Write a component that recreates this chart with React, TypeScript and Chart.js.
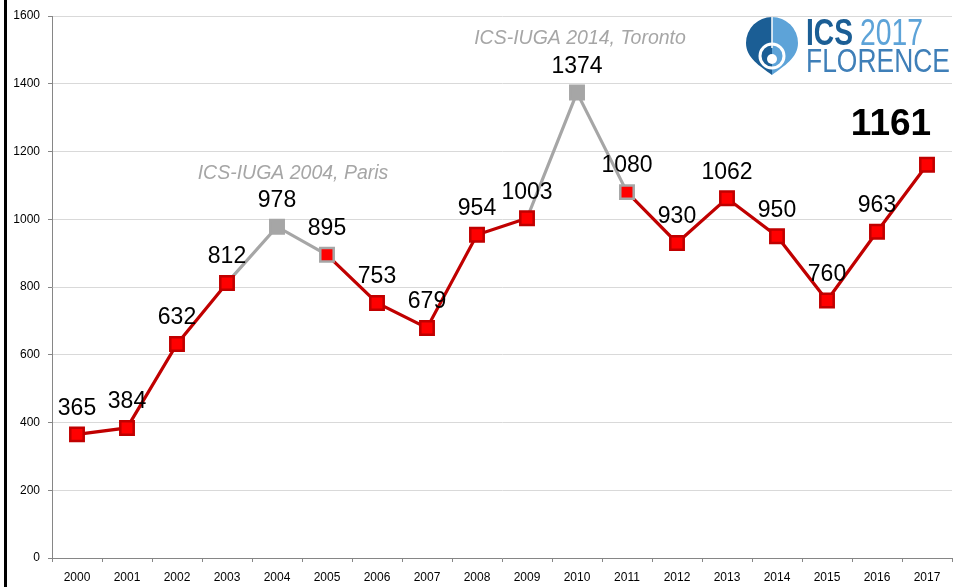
import React, { useEffect, useRef } from "react";
import { Chart, registerables } from "chart.js";

Chart.register(...registerables);

const years: string[] = ["2000","2001","2002","2003","2004","2005","2006","2007","2008","2009","2010","2011","2012","2013","2014","2015","2016","2017"];
const attendees: number[] = [365,384,632,812,978,895,753,679,954,1003,1374,1080,930,1062,950,760,963,1161];
const yTicks: number[] = [0,200,400,600,800,1000,1200,1400,1600];
// indexes of congress years (joint ICS-IUGA meetings) and the year after
const jointYears: number[] = [4, 10];
const afterJoint: number[] = [5, 11];
const greySegmentStarts: number[] = [3, 4, 9, 10];
const annotations = [
  { text: "ICS-IUGA 2004, Paris", x: 4.32, y: 1136 },
  { text: "ICS-IUGA 2014, Toronto", x: 10.06, y: 1533 },
];

const RED = "#c00000";
const RED_FILL = "#ff0000";
const GREY = "#a6a6a6";
const FONT = "'Liberation Sans', Arial, sans-serif";

const labelPlugin = {
  id: "labels",
  afterDatasetsDraw(chart: any) {
    const ctx = chart.ctx;
    const meta = chart.getDatasetMeta(0);
    ctx.save();
    ctx.textAlign = "center";
    ctx.textBaseline = "middle";
    meta.data.forEach((pt: any, i: number) => {
      const last = i === attendees.length - 1;
      if (last) {
        ctx.font = `bold 37px ${FONT}`;
        ctx.fillStyle = "#000";
        ctx.fillText(String(attendees[i]), pt.x - 36, pt.y - 40);
      } else {
        ctx.font = `23px ${FONT}`;
        ctx.fillStyle = "#000";
        ctx.fillText(String(attendees[i]), pt.x, pt.y - 26);
      }
    });
    const xs = chart.scales.x;
    const ys = chart.scales.y;
    ctx.font = `italic 19.5px ${FONT}`;
    ctx.fillStyle = GREY;
    annotations.forEach((a) => {
      const x0 = xs.getPixelForValue(Math.floor(a.x));
      const x1 = xs.getPixelForValue(Math.floor(a.x) + 1);
      const px = x0 + (x1 - x0) * (a.x - Math.floor(a.x));
      ctx.fillText(a.text, px, ys.getPixelForValue(a.y));
    });
    ctx.restore();
  },
};

function Logo() {
  return (
    <svg width={213} height={75} style={{ position: "absolute", left: 740, top: 10 }}>
      <path d="M32 65 C 20 56, 6 48, 6 33 A 26 26 0 0 1 32 7 L 32 65 Z" fill="#1b5e95" />
      <path d="M32 65 C 44 56, 58 48, 58 33 A 26 26 0 0 0 32 7 L 32 65 Z" fill="#5da3d8" />
      <line x1={32} y1={7} x2={32} y2={38} stroke="#fff" strokeWidth={1.5} />
      <circle cx={32} cy={46} r={12} fill="none" stroke="#fff" strokeWidth={3} />
      <circle cx={32} cy={49} r={5} fill="#fff" />
      <text x={66} y={35} fontFamily={FONT} fontWeight="bold" fontSize={36} fill="#1b5e95" textLength={47} lengthAdjust="spacingAndGlyphs">ICS</text>
      <text x={120} y={35} fontFamily={FONT} fontSize={36} fill="#5da3d8" textLength={63} lengthAdjust="spacingAndGlyphs">2017</text>
      <text x={66} y={62} fontFamily={FONT} fontSize={34} fill="#3f7fb8" textLength={144} lengthAdjust="spacingAndGlyphs">FLORENCE</text>
    </svg>
  );
}

export default function App() {
  const ref = useRef<HTMLCanvasElement | null>(null);
  useEffect(() => {
    if (!ref.current) return;
    const chart = new Chart(ref.current, {
      type: "line",
      data: {
        labels: years,
        datasets: [
          {
            data: attendees,
            borderColor: RED,
            borderWidth: 3.2,
            pointStyle: "rect",
            pointRadius: 9.5,
            pointBorderWidth: 2.5,
            pointBackgroundColor: attendees.map((_, i) => (jointYears.includes(i) ? GREY : RED_FILL)),
            pointBorderColor: attendees.map((_, i) => (jointYears.includes(i) || afterJoint.includes(i) ? GREY : RED)),
            tension: 0,
            clip: false,
            segment: {
              borderColor: (c: any) => (greySegmentStarts.includes(c.p0DataIndex) ? GREY : RED),
            },
          },
        ],
      },
      options: {
        animation: false,
        responsive: false,
        devicePixelRatio: 1,
        layout: { autoPadding: false, padding: { left: 0, right: 1, top: 16, bottom: 0 } },
        plugins: { legend: { display: false }, tooltip: { enabled: false } },
        scales: {
          x: {
            type: "category",
            offset: true,
            afterFit: (s: any) => { s.height = 29; s.paddingRight = 0; s.paddingLeft = 0; },
            grid: { drawOnChartArea: false, offset: true, tickLength: 4, color: "#868686" },
            border: { color: "#868686" },
            ticks: { color: "#000", padding: 8, font: { family: FONT, size: 12 }, maxRotation: 0 },
          },
          y: {
            min: 0,
            max: 1600,
            afterFit: (s: any) => { s.width = 52; s.paddingTop = 0; s.paddingBottom = 0; },
            afterBuildTicks: (s: any) => { s.ticks = yTicks.map((v) => ({ value: v })); },
            grid: { color: "#d9d9d9", tickLength: 4, tickColor: "#868686" },
            border: { color: "#868686" },
            ticks: { color: "#000", padding: 8, font: { family: FONT, size: 12 }, callback: (v: any) => String(v) },
          },
        },
      },
      plugins: [labelPlugin],
    });
    return () => chart.destroy();
  }, []);
  return (
    <div style={{ position: "absolute", left: 0, top: 0, width: 953, height: 587, background: "#fff", overflow: "hidden" }}>
      <canvas ref={ref} width={953} height={587} style={{ position: "absolute", left: 0, top: 0 }} />
      <div style={{ position: "absolute", left: 4, top: 0, width: 3, height: 587, background: "#000" }} />
      <Logo />
    </div>
  );
}
